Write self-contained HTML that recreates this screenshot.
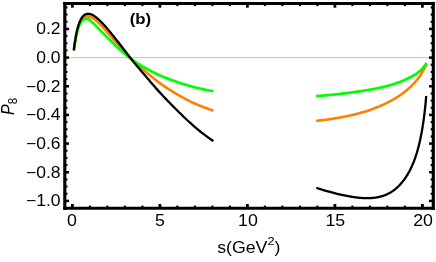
<!DOCTYPE html>
<html><head><meta charset="utf-8"><title>P8</title>
<style>
html,body{margin:0;padding:0;background:#fff;}
body{width:436px;height:262px;overflow:hidden;}
svg{display:block;will-change:transform;font-family:"Liberation Sans",sans-serif;}
</style></head><body>
<svg width="436" height="262" viewBox="0 0 436 262">
<rect x="0" y="0" width="436" height="262" fill="#fff"/>
<line x1="64.80" y1="57.60" x2="433.30" y2="57.60" stroke="#c4c4c4" stroke-width="1"/>
<path d="M73.85 50.33 L74.27 47.02 L74.70 44.01 L75.12 41.26 L75.55 38.75 L75.97 36.45 L76.40 34.35 L76.82 32.43 L77.25 30.68 L77.67 29.08 L78.10 27.62 L78.52 26.29 L78.95 25.08 L79.37 23.97 L79.80 22.97 L80.22 22.07 L80.64 21.25 L81.07 20.51 L81.49 19.85 L81.92 19.26 L82.34 18.74 L82.77 18.28 L83.19 17.88 L83.62 17.53 L84.04 17.23 L84.47 16.98 L84.89 16.77 L85.32 16.60 L85.74 16.48 L86.17 16.39 L86.59 16.33 L87.02 16.31 L87.44 16.32 L87.86 16.36 L88.29 16.42 L88.71 16.51 L89.14 16.61 L89.56 16.73 L89.99 16.87 L90.41 17.03 L90.84 17.20 L91.26 17.39 L91.69 17.60 L92.11 17.82 L92.54 18.05 L92.96 18.30 L93.39 18.56 L93.81 18.83 L94.23 19.12 L94.66 19.42 L95.08 19.73 L95.51 20.06 L95.93 20.39 L96.36 20.74 L96.78 21.10 L97.21 21.48 L97.63 21.86 L98.06 22.26 L98.48 22.67 L98.91 23.08 L99.33 23.50 L99.76 23.93 L100.18 24.36 L100.61 24.80 L101.03 25.25 L101.45 25.70 L101.88 26.15 L102.30 26.61 L102.73 27.07 L103.15 27.54 L103.58 28.01 L104.00 28.48 L104.43 28.96 L104.85 29.43 L105.28 29.91 L105.70 30.40 L106.13 30.88 L106.55 31.37 L106.98 31.85 L107.40 32.34 L108.74 33.89 L110.08 35.44 L111.43 37.00 L112.77 38.55 L114.11 40.11 L115.45 41.66 L116.79 43.21 L118.13 44.75 L119.48 46.28 L120.82 47.79 L122.16 49.29 L123.50 50.77 L124.84 52.24 L126.18 53.69 L127.53 55.11 L128.87 56.52 L130.21 57.90 L131.55 59.26 L132.89 60.57 L134.24 61.85 L135.58 63.10 L136.92 64.32 L138.26 65.52 L139.60 66.69 L140.94 67.84 L142.29 68.98 L143.63 70.10 L144.97 71.21 L146.31 72.32 L147.65 73.41 L148.99 74.51 L150.34 75.60 L151.68 76.71 L153.02 77.81 L154.36 78.91 L155.70 80.00 L157.05 81.06 L158.39 82.10 L159.73 83.09 L161.07 84.04 L162.41 84.98 L163.75 85.90 L165.10 86.80 L166.44 87.69 L167.78 88.56 L169.12 89.41 L170.46 90.25 L171.81 91.07 L173.15 91.89 L174.49 92.71 L175.83 93.53 L177.17 94.34 L178.51 95.15 L179.86 95.94 L181.20 96.71 L182.54 97.47 L183.88 98.20 L185.22 98.91 L186.56 99.60 L187.91 100.28 L189.25 100.95 L190.59 101.60 L191.93 102.23 L193.27 102.85 L194.62 103.46 L195.96 104.05 L197.30 104.63 L198.64 105.20 L199.98 105.75 L201.32 106.29 L202.67 106.82 L204.01 107.34 L205.35 107.84 L206.69 108.33 L208.03 108.80 L209.37 109.27 L210.72 109.72 L212.06 110.15 L213.40 110.58" fill="none" stroke="#ff8000" stroke-width="2.60" stroke-linecap="butt" stroke-linejoin="round"/>
<path d="M316.20 120.79 L317.24 120.70 L318.28 120.60 L319.31 120.50 L320.34 120.39 L321.37 120.28 L322.38 120.17 L323.40 120.05 L324.41 119.93 L325.41 119.80 L326.41 119.68 L327.40 119.55 L328.39 119.41 L329.37 119.27 L330.35 119.13 L331.33 118.99 L332.30 118.84 L333.26 118.69 L334.22 118.53 L335.17 118.38 L336.12 118.22 L337.07 118.05 L338.01 117.89 L338.94 117.72 L339.87 117.55 L340.80 117.38 L341.72 117.21 L342.63 117.03 L343.54 116.85 L344.45 116.67 L345.35 116.49 L346.24 116.31 L347.14 116.12 L348.02 115.93 L348.90 115.74 L349.78 115.55 L350.65 115.35 L351.51 115.15 L352.38 114.95 L353.23 114.75 L354.08 114.54 L354.93 114.34 L355.77 114.13 L356.61 113.91 L357.44 113.70 L358.27 113.48 L359.09 113.26 L359.91 113.04 L360.72 112.82 L361.52 112.59 L362.33 112.36 L363.12 112.13 L363.92 111.89 L364.70 111.66 L365.49 111.42 L366.26 111.17 L367.04 110.93 L367.81 110.68 L368.57 110.43 L369.33 110.17 L370.08 109.92 L370.83 109.66 L371.57 109.39 L372.31 109.13 L373.04 108.86 L373.77 108.59 L374.50 108.32 L375.21 108.04 L375.93 107.76 L376.64 107.48 L377.34 107.20 L378.04 106.91 L378.73 106.63 L379.42 106.34 L380.11 106.05 L380.79 105.75 L381.46 105.46 L382.13 105.16 L382.80 104.86 L383.46 104.56 L384.11 104.25 L384.76 103.95 L385.41 103.64 L386.05 103.33 L386.68 103.02 L387.31 102.70 L387.94 102.39 L388.56 102.07 L389.17 101.75 L389.79 101.43 L390.39 101.10 L390.99 100.78 L391.59 100.45 L392.18 100.12 L392.77 99.79 L393.35 99.46 L393.92 99.12 L394.50 98.79 L395.06 98.45 L395.62 98.11 L396.18 97.77 L396.73 97.42 L397.28 97.08 L397.82 96.73 L398.36 96.38 L398.89 96.03 L399.42 95.68 L399.94 95.33 L400.46 94.97 L400.97 94.62 L401.48 94.26 L401.98 93.90 L402.48 93.54 L402.97 93.17 L403.46 92.81 L403.94 92.44 L404.42 92.07 L404.89 91.70 L405.36 91.32 L405.83 90.95 L406.28 90.57 L406.74 90.19 L407.19 89.81 L407.63 89.43 L408.07 89.05 L408.50 88.66 L408.93 88.28 L409.36 87.89 L409.78 87.50 L410.19 87.11 L410.60 86.72 L411.01 86.34 L411.41 85.95 L411.80 85.56 L412.19 85.18 L412.57 84.79 L412.95 84.41 L413.33 84.02 L413.70 83.63 L414.07 83.25 L414.43 82.86 L414.78 82.47 L415.13 82.08 L415.48 81.69 L415.82 81.30 L416.15 80.90 L416.49 80.51 L416.81 80.11 L417.13 79.72 L417.45 79.32 L417.76 78.92 L418.07 78.52 L418.37 78.12 L418.66 77.71 L418.96 77.31 L419.24 76.90 L419.52 76.49 L419.80 76.08 L420.07 75.67 L420.34 75.26 L420.60 74.85 L420.86 74.44 L421.11 74.04 L421.36 73.64 L421.60 73.24 L421.84 72.85 L422.07 72.46 L422.30 72.07 L422.52 71.69 L422.74 71.31 L422.96 70.94 L423.16 70.58 L423.37 70.22 L423.56 69.87 L423.76 69.53 L423.95 69.19 L424.13 68.86 L424.31 68.54 L424.48 68.22 L424.65 67.92 L424.82 67.61 L424.98 67.32 L425.13 67.04 L425.28 66.76 L425.42 66.49 L425.56 66.24 L425.70 65.99 L425.83 65.76 L425.95 65.53 L426.07 65.32 L426.19 65.11 L426.30 64.92 L426.40 64.74 L426.50 64.58 L426.60 64.43 L426.69 64.29 L426.77 64.16 L426.85 64.05 L426.93 63.96 L427.00 63.88" fill="none" stroke="#ff8000" stroke-width="2.60" stroke-linecap="butt" stroke-linejoin="round"/>
<path d="M73.85 50.20 L74.27 47.15 L74.70 44.35 L75.12 41.77 L75.55 39.40 L75.97 37.21 L76.40 35.21 L76.82 33.38 L77.25 31.70 L77.67 30.16 L78.10 28.77 L78.52 27.49 L78.95 26.34 L79.37 25.29 L79.80 24.35 L80.22 23.50 L80.64 22.74 L81.07 22.06 L81.49 21.46 L81.92 20.94 L82.34 20.48 L82.77 20.09 L83.19 19.76 L83.62 19.48 L84.04 19.25 L84.47 19.08 L84.89 18.95 L85.32 18.86 L85.74 18.81 L86.17 18.80 L86.59 18.82 L87.02 18.88 L87.44 18.97 L87.86 19.08 L88.29 19.23 L88.71 19.44 L89.14 19.70 L89.56 20.00 L89.99 20.33 L90.41 20.68 L90.84 21.05 L91.26 21.43 L91.69 21.80 L92.11 22.16 L92.54 22.53 L92.96 22.92 L93.39 23.31 L93.81 23.71 L94.23 24.12 L94.66 24.54 L95.08 24.96 L95.51 25.40 L95.93 25.83 L96.36 26.27 L96.78 26.72 L97.21 27.16 L97.63 27.61 L98.06 28.06 L98.48 28.51 L98.91 28.97 L99.33 29.42 L99.76 29.87 L100.18 30.32 L100.61 30.76 L101.03 31.21 L101.45 31.64 L101.88 32.08 L102.30 32.51 L102.73 32.94 L103.15 33.37 L103.58 33.79 L104.00 34.22 L104.43 34.64 L104.85 35.06 L105.28 35.47 L105.70 35.89 L106.13 36.31 L106.55 36.73 L106.98 37.14 L107.40 37.56 L108.74 38.88 L110.08 40.23 L111.43 41.57 L112.77 42.90 L114.11 44.22 L115.45 45.51 L116.79 46.78 L118.13 48.04 L119.48 49.26 L120.82 50.47 L122.16 51.65 L123.50 52.80 L124.84 53.93 L126.18 55.04 L127.53 56.11 L128.87 57.17 L130.21 58.19 L131.55 59.19 L132.89 60.16 L134.24 61.11 L135.58 62.03 L136.92 62.93 L138.26 63.81 L139.60 64.66 L140.94 65.50 L142.29 66.31 L143.63 67.10 L144.97 67.87 L146.31 68.62 L147.65 69.36 L148.99 70.08 L150.34 70.78 L151.68 71.47 L153.02 72.14 L154.36 72.79 L155.70 73.44 L157.05 74.07 L158.39 74.68 L159.73 75.29 L161.07 75.88 L162.41 76.46 L163.75 77.02 L165.10 77.57 L166.44 78.11 L167.78 78.63 L169.12 79.14 L170.46 79.64 L171.81 80.14 L173.15 80.63 L174.49 81.10 L175.83 81.58 L177.17 82.04 L178.51 82.49 L179.86 82.94 L181.20 83.38 L182.54 83.81 L183.88 84.23 L185.22 84.65 L186.56 85.05 L187.91 85.44 L189.25 85.83 L190.59 86.21 L191.93 86.57 L193.27 86.93 L194.62 87.28 L195.96 87.61 L197.30 87.94 L198.64 88.26 L199.98 88.56 L201.32 88.86 L202.67 89.15 L204.01 89.43 L205.35 89.70 L206.69 89.96 L208.03 90.22 L209.37 90.47 L210.72 90.72 L212.06 90.96 L213.40 91.19" fill="none" stroke="#00ff00" stroke-width="2.70" stroke-linecap="butt" stroke-linejoin="round"/>
<path d="M316.20 96.13 L317.21 96.04 L318.22 95.96 L319.22 95.88 L320.22 95.79 L321.21 95.71 L322.20 95.63 L323.18 95.54 L324.16 95.46 L325.14 95.38 L326.11 95.29 L327.07 95.21 L328.03 95.12 L328.99 95.03 L329.94 94.94 L330.89 94.85 L331.83 94.76 L332.77 94.67 L333.70 94.57 L334.63 94.48 L335.55 94.38 L336.47 94.28 L337.38 94.18 L338.29 94.08 L339.20 93.98 L340.10 93.87 L340.99 93.77 L341.89 93.67 L342.77 93.56 L343.65 93.46 L344.53 93.35 L345.40 93.24 L346.27 93.14 L347.14 93.03 L348.00 92.92 L348.85 92.81 L349.70 92.70 L350.55 92.59 L351.39 92.48 L352.22 92.37 L353.05 92.26 L353.88 92.15 L354.70 92.03 L355.52 91.92 L356.33 91.81 L357.14 91.69 L357.94 91.58 L358.74 91.46 L359.54 91.34 L360.33 91.23 L361.11 91.11 L361.89 90.99 L362.67 90.87 L363.44 90.75 L364.21 90.63 L364.97 90.51 L365.73 90.39 L366.48 90.27 L367.23 90.15 L367.97 90.02 L368.71 89.90 L369.44 89.77 L370.17 89.65 L370.90 89.52 L371.62 89.39 L372.33 89.26 L373.05 89.13 L373.75 89.00 L374.45 88.87 L375.15 88.73 L375.84 88.60 L376.53 88.46 L377.22 88.32 L377.90 88.18 L378.57 88.04 L379.24 87.90 L379.90 87.75 L380.56 87.61 L381.22 87.46 L381.87 87.31 L382.52 87.17 L383.16 87.01 L383.80 86.86 L384.43 86.71 L385.06 86.55 L385.68 86.40 L386.30 86.24 L386.92 86.08 L387.53 85.92 L388.13 85.76 L388.73 85.59 L389.33 85.43 L389.92 85.26 L390.50 85.09 L391.09 84.92 L391.66 84.75 L392.24 84.58 L392.80 84.40 L393.37 84.23 L393.93 84.05 L394.48 83.87 L395.03 83.69 L395.58 83.51 L396.12 83.33 L396.65 83.14 L397.18 82.96 L397.71 82.77 L398.23 82.58 L398.75 82.39 L399.26 82.20 L399.77 82.01 L400.27 81.81 L400.77 81.62 L401.27 81.42 L401.76 81.22 L402.24 81.02 L402.72 80.83 L403.20 80.62 L403.67 80.42 L404.13 80.22 L404.60 80.02 L405.05 79.81 L405.51 79.61 L405.96 79.40 L406.40 79.19 L406.84 78.99 L407.27 78.78 L407.70 78.57 L408.13 78.36 L408.55 78.15 L408.96 77.94 L409.37 77.73 L409.78 77.52 L410.18 77.32 L410.58 77.11 L410.97 76.90 L411.36 76.69 L411.74 76.49 L412.12 76.28 L412.50 76.07 L412.87 75.86 L413.23 75.65 L413.59 75.44 L413.95 75.23 L414.30 75.02 L414.64 74.81 L414.99 74.59 L415.32 74.38 L415.66 74.16 L415.98 73.95 L416.31 73.73 L416.63 73.51 L416.94 73.30 L417.25 73.08 L417.56 72.86 L417.86 72.64 L418.15 72.42 L418.44 72.19 L418.73 71.97 L419.01 71.75 L419.29 71.52 L419.56 71.29 L419.83 71.06 L420.09 70.82 L420.35 70.58 L420.61 70.34 L420.85 70.09 L421.10 69.85 L421.34 69.61 L421.58 69.36 L421.81 69.12 L422.03 68.87 L422.26 68.63 L422.47 68.39 L422.69 68.15 L422.89 67.91 L423.10 67.67 L423.30 67.44 L423.49 67.21 L423.68 66.98 L423.86 66.75 L424.04 66.52 L424.22 66.30 L424.39 66.08 L424.56 65.86 L424.72 65.64 L424.88 65.43 L425.03 65.21 L425.18 65.00 L425.32 64.79 L425.46 64.59 L425.59 64.38 L425.72 64.18 L425.85 63.98 L425.97 63.79 L426.08 63.60 L426.19 63.41 L426.30 63.23 L426.40 63.05 L426.50 62.87" fill="none" stroke="#00ff00" stroke-width="2.70" stroke-linecap="butt" stroke-linejoin="round"/>
<path d="M73.85 50.47 L74.27 46.95 L74.70 43.76 L75.12 40.86 L75.55 38.22 L75.97 35.81 L76.40 33.61 L76.82 31.60 L77.25 29.76 L77.67 28.08 L78.10 26.55 L78.52 25.15 L78.95 23.87 L79.37 22.70 L79.80 21.63 L80.22 20.66 L80.64 19.78 L81.07 18.98 L81.49 18.26 L81.92 17.60 L82.34 17.01 L82.77 16.49 L83.19 16.02 L83.62 15.60 L84.04 15.24 L84.47 14.92 L84.89 14.65 L85.32 14.42 L85.74 14.22 L86.17 14.07 L86.59 13.95 L87.02 13.86 L87.44 13.81 L87.86 13.78 L88.29 13.78 L88.71 13.81 L89.14 13.86 L89.56 13.94 L89.99 14.03 L90.41 14.15 L90.84 14.29 L91.26 14.45 L91.69 14.63 L92.11 14.83 L92.54 15.04 L92.96 15.27 L93.39 15.51 L93.81 15.77 L94.23 16.04 L94.66 16.32 L95.08 16.62 L95.51 16.92 L95.93 17.24 L96.36 17.57 L96.78 17.92 L97.21 18.27 L97.63 18.63 L98.06 19.00 L98.48 19.37 L98.91 19.76 L99.33 20.15 L99.76 20.56 L100.18 20.97 L100.61 21.38 L101.03 21.81 L101.45 22.23 L101.88 22.67 L102.30 23.11 L102.73 23.56 L103.15 24.01 L103.58 24.47 L104.00 24.93 L104.43 25.40 L104.85 25.87 L105.28 26.35 L105.70 26.83 L106.13 27.31 L106.55 27.80 L106.98 28.29 L107.40 28.78 L108.74 30.37 L110.08 31.98 L111.43 33.62 L112.77 35.28 L114.11 36.96 L115.45 38.65 L116.79 40.36 L118.13 42.07 L119.48 43.80 L120.82 45.53 L122.16 47.26 L123.50 49.00 L124.84 50.74 L126.18 52.48 L127.53 54.22 L128.87 55.96 L130.21 57.69 L131.55 59.40 L132.89 61.08 L134.24 62.72 L135.58 64.34 L136.92 65.94 L138.26 67.52 L139.60 69.09 L140.94 70.65 L142.29 72.21 L143.63 73.77 L144.97 75.34 L146.31 76.91 L147.65 78.50 L148.99 80.09 L150.34 81.66 L151.68 83.23 L153.02 84.79 L154.36 86.34 L155.70 87.87 L157.05 89.38 L158.39 90.88 L159.73 92.36 L161.07 93.83 L162.41 95.27 L163.75 96.70 L165.10 98.12 L166.44 99.52 L167.78 100.91 L169.12 102.29 L170.46 103.66 L171.81 105.02 L173.15 106.37 L174.49 107.71 L175.83 109.04 L177.17 110.38 L178.51 111.72 L179.86 113.05 L181.20 114.38 L182.54 115.69 L183.88 116.99 L185.22 118.27 L186.56 119.53 L187.91 120.77 L189.25 122.00 L190.59 123.21 L191.93 124.41 L193.27 125.59 L194.62 126.76 L195.96 127.91 L197.30 129.04 L198.64 130.15 L199.98 131.23 L201.32 132.30 L202.67 133.35 L204.01 134.39 L205.35 135.40 L206.69 136.39 L208.03 137.37 L209.37 138.33 L210.72 139.26 L212.06 140.18 L213.40 141.08" fill="none" stroke="#000" stroke-width="2.30" stroke-linecap="butt" stroke-linejoin="round"/>
<path d="M316.40 187.86 L317.39 188.19 L318.38 188.50 L319.37 188.82 L320.35 189.13 L321.33 189.43 L322.30 189.73 L323.27 190.03 L324.23 190.32 L325.19 190.60 L326.14 190.88 L327.09 191.15 L328.04 191.42 L328.98 191.69 L329.92 191.95 L330.85 192.20 L331.78 192.45 L332.70 192.70 L333.62 192.94 L334.53 193.17 L335.44 193.40 L336.35 193.63 L337.25 193.85 L338.14 194.06 L339.03 194.26 L339.92 194.46 L340.80 194.66 L341.68 194.85 L342.56 195.03 L343.42 195.21 L344.29 195.39 L345.15 195.56 L346.01 195.73 L346.86 195.89 L347.70 196.05 L348.55 196.21 L349.38 196.36 L350.22 196.50 L351.05 196.65 L351.87 196.78 L352.69 196.91 L353.51 197.04 L354.32 197.16 L355.12 197.27 L355.93 197.38 L356.72 197.48 L357.52 197.58 L358.31 197.66 L359.09 197.75 L359.87 197.82 L360.65 197.89 L361.42 197.95 L362.18 198.00 L362.95 198.05 L363.70 198.09 L364.46 198.12 L365.20 198.15 L365.95 198.16 L366.69 198.17 L367.42 198.17 L368.15 198.17 L368.88 198.15 L369.60 198.13 L370.32 198.10 L371.03 198.06 L371.74 198.01 L372.44 197.95 L373.14 197.88 L373.84 197.81 L374.53 197.73 L375.21 197.63 L375.90 197.53 L376.57 197.42 L377.25 197.30 L377.91 197.17 L378.58 197.03 L379.24 196.89 L379.89 196.73 L380.54 196.57 L381.19 196.39 L381.83 196.21 L382.46 196.01 L383.10 195.81 L383.72 195.59 L384.35 195.37 L384.97 195.14 L385.58 194.89 L386.19 194.64 L386.80 194.37 L387.40 194.10 L387.99 193.81 L388.59 193.52 L389.17 193.21 L389.76 192.89 L390.33 192.57 L390.91 192.23 L391.48 191.87 L392.04 191.51 L392.60 191.13 L393.16 190.74 L393.71 190.34 L394.26 189.93 L394.80 189.50 L395.34 189.07 L395.87 188.62 L396.40 188.16 L396.93 187.70 L397.45 187.22 L397.97 186.73 L398.48 186.22 L398.98 185.71 L399.49 185.19 L399.98 184.66 L400.48 184.12 L400.97 183.57 L401.45 183.01 L401.93 182.44 L402.41 181.87 L402.88 181.29 L403.35 180.69 L403.81 180.09 L404.27 179.48 L404.72 178.85 L405.17 178.22 L405.61 177.57 L406.05 176.91 L406.49 176.24 L406.92 175.56 L407.35 174.86 L407.77 174.15 L408.19 173.43 L408.60 172.70 L409.01 171.96 L409.41 171.21 L409.81 170.45 L410.21 169.68 L410.60 168.89 L410.98 168.10 L411.37 167.29 L411.74 166.47 L412.12 165.64 L412.48 164.80 L412.85 163.94 L413.21 163.07 L413.56 162.19 L413.91 161.30 L414.26 160.39 L414.60 159.47 L414.94 158.55 L415.27 157.62 L415.60 156.67 L415.92 155.71 L416.24 154.74 L416.56 153.75 L416.87 152.74 L417.17 151.72 L417.47 150.68 L417.77 149.62 L418.06 148.55 L418.35 147.45 L418.63 146.35 L418.91 145.23 L419.19 144.09 L419.46 142.94 L419.72 141.78 L419.98 140.61 L420.24 139.42 L420.49 138.23 L420.74 137.03 L420.98 135.81 L421.22 134.59 L421.46 133.36 L421.69 132.12 L421.91 130.87 L422.13 129.61 L422.35 128.35 L422.56 127.07 L422.77 125.79 L422.97 124.50 L423.17 123.20 L423.36 121.89 L423.55 120.57 L423.74 119.25 L423.92 117.92 L424.10 116.59 L424.27 115.25 L424.43 113.90 L424.60 112.55 L424.75 111.19 L424.91 109.83 L425.06 108.46 L425.20 107.09 L425.34 105.71 L425.48 104.34 L425.61 102.95 L425.74 101.57 L425.86 100.19 L425.98 98.80 L426.09 97.41 L426.20 96.02" fill="none" stroke="#000" stroke-width="2.30" stroke-linecap="butt" stroke-linejoin="round"/>
<g stroke="#000" fill="none">
<line x1="72.40" y1="208.25" x2="72.40" y2="204.00" stroke-width="2.8"/>
<line x1="72.40" y1="3.45" x2="72.40" y2="7.70" stroke-width="2.8"/>
<line x1="89.90" y1="208.25" x2="89.90" y2="205.60" stroke-width="2.2"/>
<line x1="89.90" y1="3.45" x2="89.90" y2="6.10" stroke-width="2.2"/>
<line x1="107.40" y1="208.25" x2="107.40" y2="205.60" stroke-width="2.2"/>
<line x1="107.40" y1="3.45" x2="107.40" y2="6.10" stroke-width="2.2"/>
<line x1="124.90" y1="208.25" x2="124.90" y2="205.60" stroke-width="2.2"/>
<line x1="124.90" y1="3.45" x2="124.90" y2="6.10" stroke-width="2.2"/>
<line x1="142.40" y1="208.25" x2="142.40" y2="205.60" stroke-width="2.2"/>
<line x1="142.40" y1="3.45" x2="142.40" y2="6.10" stroke-width="2.2"/>
<line x1="159.90" y1="208.25" x2="159.90" y2="204.00" stroke-width="2.8"/>
<line x1="159.90" y1="3.45" x2="159.90" y2="7.70" stroke-width="2.8"/>
<line x1="177.40" y1="208.25" x2="177.40" y2="205.60" stroke-width="2.2"/>
<line x1="177.40" y1="3.45" x2="177.40" y2="6.10" stroke-width="2.2"/>
<line x1="194.90" y1="208.25" x2="194.90" y2="205.60" stroke-width="2.2"/>
<line x1="194.90" y1="3.45" x2="194.90" y2="6.10" stroke-width="2.2"/>
<line x1="212.40" y1="208.25" x2="212.40" y2="205.60" stroke-width="2.2"/>
<line x1="212.40" y1="3.45" x2="212.40" y2="6.10" stroke-width="2.2"/>
<line x1="229.90" y1="208.25" x2="229.90" y2="205.60" stroke-width="2.2"/>
<line x1="229.90" y1="3.45" x2="229.90" y2="6.10" stroke-width="2.2"/>
<line x1="247.40" y1="208.25" x2="247.40" y2="204.00" stroke-width="2.8"/>
<line x1="247.40" y1="3.45" x2="247.40" y2="7.70" stroke-width="2.8"/>
<line x1="264.90" y1="208.25" x2="264.90" y2="205.60" stroke-width="2.2"/>
<line x1="264.90" y1="3.45" x2="264.90" y2="6.10" stroke-width="2.2"/>
<line x1="282.40" y1="208.25" x2="282.40" y2="205.60" stroke-width="2.2"/>
<line x1="282.40" y1="3.45" x2="282.40" y2="6.10" stroke-width="2.2"/>
<line x1="299.90" y1="208.25" x2="299.90" y2="205.60" stroke-width="2.2"/>
<line x1="299.90" y1="3.45" x2="299.90" y2="6.10" stroke-width="2.2"/>
<line x1="317.40" y1="208.25" x2="317.40" y2="205.60" stroke-width="2.2"/>
<line x1="317.40" y1="3.45" x2="317.40" y2="6.10" stroke-width="2.2"/>
<line x1="334.90" y1="208.25" x2="334.90" y2="204.00" stroke-width="2.8"/>
<line x1="334.90" y1="3.45" x2="334.90" y2="7.70" stroke-width="2.8"/>
<line x1="352.40" y1="208.25" x2="352.40" y2="205.60" stroke-width="2.2"/>
<line x1="352.40" y1="3.45" x2="352.40" y2="6.10" stroke-width="2.2"/>
<line x1="369.90" y1="208.25" x2="369.90" y2="205.60" stroke-width="2.2"/>
<line x1="369.90" y1="3.45" x2="369.90" y2="6.10" stroke-width="2.2"/>
<line x1="387.40" y1="208.25" x2="387.40" y2="205.60" stroke-width="2.2"/>
<line x1="387.40" y1="3.45" x2="387.40" y2="6.10" stroke-width="2.2"/>
<line x1="404.90" y1="208.25" x2="404.90" y2="205.60" stroke-width="2.2"/>
<line x1="404.90" y1="3.45" x2="404.90" y2="6.10" stroke-width="2.2"/>
<line x1="422.40" y1="208.25" x2="422.40" y2="204.00" stroke-width="2.8"/>
<line x1="422.40" y1="3.45" x2="422.40" y2="7.70" stroke-width="2.8"/>
<line x1="64.80" y1="208.10" x2="67.45" y2="208.10" stroke-width="2.1"/>
<line x1="433.30" y1="208.10" x2="430.65" y2="208.10" stroke-width="2.1"/>
<line x1="64.80" y1="200.93" x2="69.05" y2="200.93" stroke-width="2.5"/>
<line x1="433.30" y1="200.93" x2="429.05" y2="200.93" stroke-width="2.5"/>
<line x1="64.80" y1="193.76" x2="67.45" y2="193.76" stroke-width="2.1"/>
<line x1="433.30" y1="193.76" x2="430.65" y2="193.76" stroke-width="2.1"/>
<line x1="64.80" y1="186.60" x2="67.45" y2="186.60" stroke-width="2.1"/>
<line x1="433.30" y1="186.60" x2="430.65" y2="186.60" stroke-width="2.1"/>
<line x1="64.80" y1="179.43" x2="67.45" y2="179.43" stroke-width="2.1"/>
<line x1="433.30" y1="179.43" x2="430.65" y2="179.43" stroke-width="2.1"/>
<line x1="64.80" y1="172.26" x2="69.05" y2="172.26" stroke-width="2.5"/>
<line x1="433.30" y1="172.26" x2="429.05" y2="172.26" stroke-width="2.5"/>
<line x1="64.80" y1="165.10" x2="67.45" y2="165.10" stroke-width="2.1"/>
<line x1="433.30" y1="165.10" x2="430.65" y2="165.10" stroke-width="2.1"/>
<line x1="64.80" y1="157.93" x2="67.45" y2="157.93" stroke-width="2.1"/>
<line x1="433.30" y1="157.93" x2="430.65" y2="157.93" stroke-width="2.1"/>
<line x1="64.80" y1="150.76" x2="67.45" y2="150.76" stroke-width="2.1"/>
<line x1="433.30" y1="150.76" x2="430.65" y2="150.76" stroke-width="2.1"/>
<line x1="64.80" y1="143.60" x2="69.05" y2="143.60" stroke-width="2.5"/>
<line x1="433.30" y1="143.60" x2="429.05" y2="143.60" stroke-width="2.5"/>
<line x1="64.80" y1="136.43" x2="67.45" y2="136.43" stroke-width="2.1"/>
<line x1="433.30" y1="136.43" x2="430.65" y2="136.43" stroke-width="2.1"/>
<line x1="64.80" y1="129.27" x2="67.45" y2="129.27" stroke-width="2.1"/>
<line x1="433.30" y1="129.27" x2="430.65" y2="129.27" stroke-width="2.1"/>
<line x1="64.80" y1="122.10" x2="67.45" y2="122.10" stroke-width="2.1"/>
<line x1="433.30" y1="122.10" x2="430.65" y2="122.10" stroke-width="2.1"/>
<line x1="64.80" y1="114.93" x2="69.05" y2="114.93" stroke-width="2.5"/>
<line x1="433.30" y1="114.93" x2="429.05" y2="114.93" stroke-width="2.5"/>
<line x1="64.80" y1="107.77" x2="67.45" y2="107.77" stroke-width="2.1"/>
<line x1="433.30" y1="107.77" x2="430.65" y2="107.77" stroke-width="2.1"/>
<line x1="64.80" y1="100.60" x2="67.45" y2="100.60" stroke-width="2.1"/>
<line x1="433.30" y1="100.60" x2="430.65" y2="100.60" stroke-width="2.1"/>
<line x1="64.80" y1="93.43" x2="67.45" y2="93.43" stroke-width="2.1"/>
<line x1="433.30" y1="93.43" x2="430.65" y2="93.43" stroke-width="2.1"/>
<line x1="64.80" y1="86.27" x2="69.05" y2="86.27" stroke-width="2.5"/>
<line x1="433.30" y1="86.27" x2="429.05" y2="86.27" stroke-width="2.5"/>
<line x1="64.80" y1="79.10" x2="67.45" y2="79.10" stroke-width="2.1"/>
<line x1="433.30" y1="79.10" x2="430.65" y2="79.10" stroke-width="2.1"/>
<line x1="64.80" y1="71.93" x2="67.45" y2="71.93" stroke-width="2.1"/>
<line x1="433.30" y1="71.93" x2="430.65" y2="71.93" stroke-width="2.1"/>
<line x1="64.80" y1="64.77" x2="67.45" y2="64.77" stroke-width="2.1"/>
<line x1="433.30" y1="64.77" x2="430.65" y2="64.77" stroke-width="2.1"/>
<line x1="64.80" y1="57.60" x2="69.05" y2="57.60" stroke-width="2.5"/>
<line x1="433.30" y1="57.60" x2="429.05" y2="57.60" stroke-width="2.5"/>
<line x1="64.80" y1="50.43" x2="67.45" y2="50.43" stroke-width="2.1"/>
<line x1="433.30" y1="50.43" x2="430.65" y2="50.43" stroke-width="2.1"/>
<line x1="64.80" y1="43.27" x2="67.45" y2="43.27" stroke-width="2.1"/>
<line x1="433.30" y1="43.27" x2="430.65" y2="43.27" stroke-width="2.1"/>
<line x1="64.80" y1="36.10" x2="67.45" y2="36.10" stroke-width="2.1"/>
<line x1="433.30" y1="36.10" x2="430.65" y2="36.10" stroke-width="2.1"/>
<line x1="64.80" y1="28.93" x2="69.05" y2="28.93" stroke-width="2.5"/>
<line x1="433.30" y1="28.93" x2="429.05" y2="28.93" stroke-width="2.5"/>
<line x1="64.80" y1="21.77" x2="67.45" y2="21.77" stroke-width="2.1"/>
<line x1="433.30" y1="21.77" x2="430.65" y2="21.77" stroke-width="2.1"/>
<line x1="64.80" y1="14.60" x2="67.45" y2="14.60" stroke-width="2.1"/>
<line x1="433.30" y1="14.60" x2="430.65" y2="14.60" stroke-width="2.1"/>
<line x1="64.80" y1="7.43" x2="67.45" y2="7.43" stroke-width="2.1"/>
<line x1="433.30" y1="7.43" x2="430.65" y2="7.43" stroke-width="2.1"/>
</g>
<g stroke="#000" stroke-linecap="square"><line x1="64.8" y1="3.45" x2="433.3" y2="3.45" stroke-width="2.9"/><line x1="64.8" y1="208.25" x2="433.3" y2="208.25" stroke-width="2.9"/><line x1="64.8" y1="3.45" x2="64.8" y2="208.25" stroke-width="3.15"/><line x1="433.3" y1="3.45" x2="433.3" y2="208.25" stroke-width="3.15"/></g>
<g fill="#000">
<text transform="translate(60.55 34.38) scale(1.110 1)" text-anchor="end" font-size="15.8" >0.2</text>
<text transform="translate(60.55 63.05) scale(1.110 1)" text-anchor="end" font-size="15.8" >0.0</text>
<text transform="translate(60.55 91.72) scale(1.110 1)" text-anchor="end" font-size="15.8" >−0.2</text>
<text transform="translate(60.55 120.38) scale(1.110 1)" text-anchor="end" font-size="15.8" >−0.4</text>
<text transform="translate(60.55 149.05) scale(1.110 1)" text-anchor="end" font-size="15.8" >−0.6</text>
<text transform="translate(60.55 177.71) scale(1.110 1)" text-anchor="end" font-size="15.8" >−0.8</text>
<text transform="translate(60.55 206.38) scale(1.110 1)" text-anchor="end" font-size="15.8" >−1.0</text>
<text transform="translate(72.00 226.30) scale(1.110 1)" text-anchor="middle" font-size="16.0" >0</text>
<text transform="translate(159.90 226.30) scale(1.110 1)" text-anchor="middle" font-size="16.0" >5</text>
<text transform="translate(247.90 226.30) scale(1.110 1)" text-anchor="middle" font-size="16.0" >10</text>
<text transform="translate(335.30 226.30) scale(1.110 1)" text-anchor="middle" font-size="16.0" >15</text>
<text transform="translate(423.00 226.30) scale(1.110 1)" text-anchor="middle" font-size="16.0" >20</text>
<text transform="translate(248.80 252.90) scale(1.110 1)" text-anchor="middle" font-size="16.0" >s(GeV<tspan font-size="11.5" dy="-7.6">2</tspan><tspan dy="7.6">)</tspan></text>
<text transform="translate(140.35 23.90) scale(1.120 1)" text-anchor="middle" font-size="15.0" font-weight="bold">(b)</text>
<text transform="translate(13.8 106.5) scale(1.110 1) rotate(-90)" text-anchor="middle" font-size="16"><tspan font-style="italic">P</tspan><tspan font-size="11.5" dy="3.1">8</tspan></text>
</g>
</svg>
</body></html>
